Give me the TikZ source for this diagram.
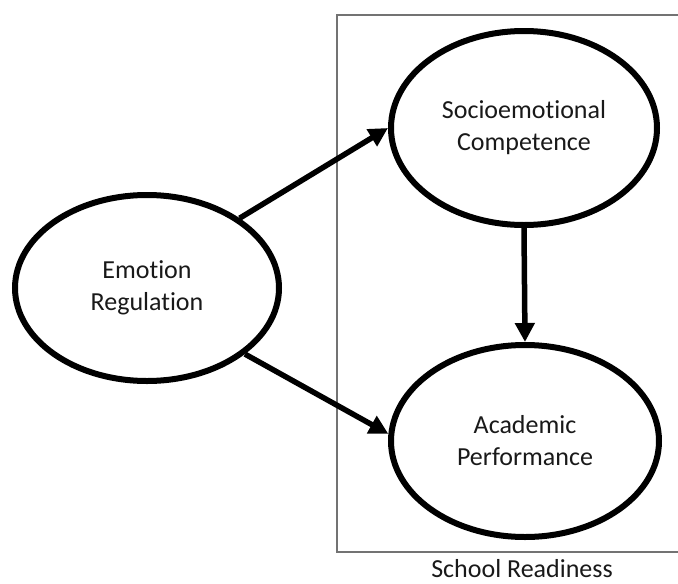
\documentclass[tikz,border=0pt]{standalone}
\usepackage{fontspec}
\setmainfont{Carlito}[Ligatures=NoCommon]
\usetikzlibrary{shapes.geometric,arrows.meta}
\begin{document}
\begin{tikzpicture}[x=1pt,y=-1pt,
  txt/.style={font=\fontsize{26}{32}\selectfont,text=black!90},
  oval/.style={ellipse,draw=black,line width=6pt,align=center,inner sep=0pt,txt},
  link/.style={line width=5.5pt,-{Triangle[length=19pt,width=19pt]}},
  frame/.style={draw=black!55,line width=1.5pt}]
\useasboundingbox (0,0) rectangle (678,584);
\draw[frame] (337,15) rectangle (700,552);
\node[oval,minimum width=264pt,minimum height=186pt] (ER) at (147,288) {Emotion\\Regulation};
\node[oval,minimum width=266pt,minimum height=194pt] (SC) at (524,128) {Socioemotional\\Competence};
\node[oval,minimum width=268pt,minimum height=192pt] (AP) at (525,441) {Academic\\Performance};
\node[txt,anchor=base,inner sep=0pt] (SR) at (522,577) {School Readiness};
\draw[link] (ER.37) -- (SC.180);
\draw[link] (ER.-34) -- (AP.177);
\draw[link] (SC.south) -- (AP.north);
\end{tikzpicture}
\end{document}
